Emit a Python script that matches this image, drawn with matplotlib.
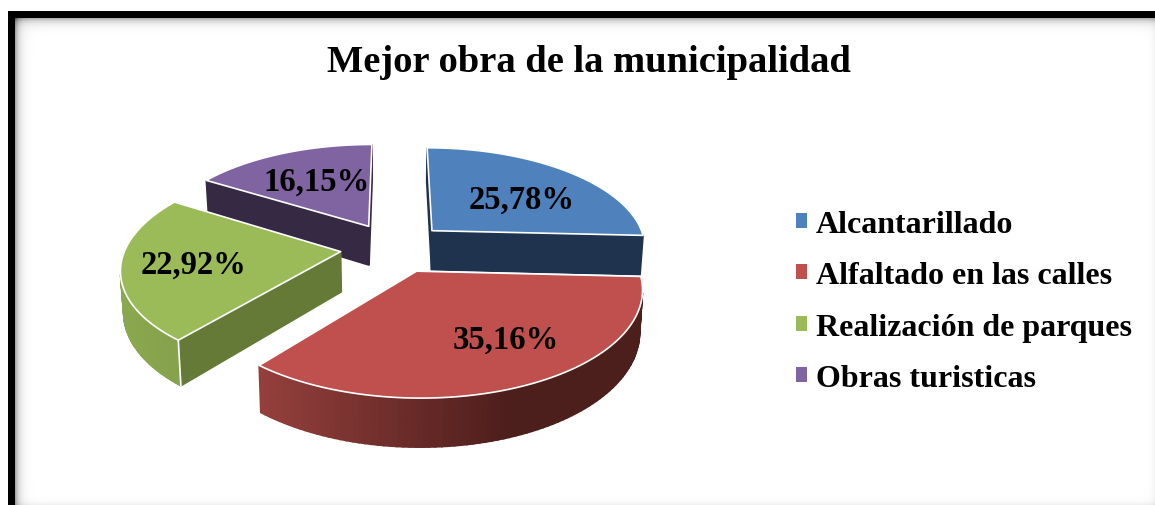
import numpy as np
import matplotlib
matplotlib.use('Agg')
import matplotlib.pyplot as plt
from matplotlib.colors import to_rgb
from matplotlib.patches import Patch

# values of the chart
categorias = ['Alcantarillado', 'Alfaltado en las calles', 'Realización de parques', 'Obras turisticas']
valores = [25.78, 35.16, 22.92, 16.15]
etiquetas = ['25,78%', '35,16%', '22,92%', '16,15%']
titulo = 'Mejor obra de la municipalidad'

colores = ['#4f81bd', '#c0504d', '#9bbb59', '#8064a2']
# cut wall colour, and arc wall colours at left / right of the wedge
pared_corte = ['#1f334e', '#4c1e1c', '#667a38', '#352944']
pared_arco = [('#1f334e', '#1f334e'), ('#95403c', '#4c1e1c'), ('#8aa84f', '#7d9847'), ('#352944', '#352944')]
label_pos = [(522, 200), (506, 340), (194, 265), (317, 182)]

plt.rcParams['font.family'] = ['Liberation Serif', 'DejaVu Serif']

# perspective of the pie plane
CX, CY = 394, 248.5
A, B, K = 215, 100, 0.15
EXPL = 0.25
PROF = 40


def proyecta(u, v, z=0.0):
    s = 1 / (1 + K * v)
    esc = 1 - 0.012 * z
    x = CX + A * u * s * esc
    y = CY - B * v * s + PROF * s * z
    return x, y


def area(xs, ys):
    xs, ys = np.asarray(xs), np.asarray(ys)
    return 0.5 * np.sum(xs * np.roll(ys, -1) - np.roll(xs, -1) * ys)


fig = plt.figure(figsize=(11.55, 5.06), dpi=100)
ax = fig.add_axes([0, 0, 1, 1])
ax.set_xlim(0, 1155)
ax.set_ylim(506, 0)
ax.axis('off')

# background: black frame with soft inner shadow
yy, xx = np.mgrid[0:506, 0:1155]
fondo = np.ones((506, 1155))
fondo -= 0.45 * np.exp(-np.clip(xx - 14, 0, None) / 4.0) * (yy >= 12)
fondo -= 0.40 * np.exp(-np.clip(yy - 18, 0, None) / 4.0) * (xx >= 8)
fondo -= 0.06 * np.exp(-np.clip(1155 - xx, 0, None) / 3.0) * (yy >= 18)
fondo -= 0.08 * np.exp(-np.clip(506 - yy, 0, None) / 3.0) * (xx >= 14)
fondo = np.clip(fondo, 0, 1)
fondo[12:, 8:15] = 0
fondo[12:19, 8:] = 0
fondo[:12, :] = 1
fondo[:, :8] = 1
ax.imshow(fondo, cmap='gray', vmin=0, vmax=1, extent=(0, 1155, 506, 0), aspect='auto',
          interpolation='bilinear', zorder=0)

fracs = np.array(valores) / np.sum(valores)
limites = 90 - 360 * np.concatenate([[0], np.cumsum(fracs)])

# back wedges first so the front ones cover them
orden = [3, 0, 2, 1]
for i in orden:
    a1, a2 = limites[i], limites[i + 1]
    medio = np.radians((a1 + a2) / 2)
    u0, v0 = EXPL * np.cos(medio), EXPL * np.sin(medio)
    th = np.radians(np.linspace(a1, a2, 90))
    us = np.concatenate([[u0], u0 + np.cos(th)])
    vs = np.concatenate([[v0], v0 + np.sin(th)])
    xt, yt = proyecta(us, vs)
    xb, yb = proyecta(us, vs, 1.0)
    signo = np.sign(area(xt, yt))

    x_min, x_max = xt.min(), xt.max()
    c_izq = np.array(to_rgb(pared_arco[i][0]))
    c_der = np.array(to_rgb(pared_arco[i][1]))
    n = len(xt)
    for j in range(n):
        k = (j + 1) % n
        qx = [xt[j], xt[k], xb[k], xb[j]]
        qy = [yt[j], yt[k], yb[k], yb[j]]
        if np.sign(area(qx, qy)) == signo:
            continue
        if j == 0 or j == n - 1:
            col = pared_corte[i]
        else:
            t = min(1, ((xt[j] - x_min) / max(x_max - x_min, 1)) * 1.5)
            col = tuple(c_izq + (c_der - c_izq) * t)
        ax.fill(qx, qy, color=col, lw=1.2, zorder=2)
    ax.fill(xt, yt, facecolor=colores[i], edgecolor='white', lw=1.2, zorder=2, joinstyle='round')
    # white line on the green corner between arc and cut wall
    if i == 2:
        xe, ye = proyecta(us[1], vs[1])
        xf, yf = proyecta(us[1], vs[1], 1.0)
        ax.plot([xe, xf], [ye, yf], color='white', lw=1.2, zorder=2)

for et, (px, py) in zip(etiquetas, label_pos):
    ax.text(px, py, et, fontsize=23.5, fontweight='bold', ha='center', va='center', color='black', zorder=3)

ax.text(589, 62, titulo, fontsize=27.7, fontweight='bold', ha='center', va='center', color='black', zorder=3)

handles = [Patch(facecolor=c, edgecolor='none') for c in colores]
ax.legend(handles, categorias, loc='upper left', bbox_to_anchor=(796 / 1155, 1 - 211 / 506),
          frameon=False, prop={'size': 23, 'weight': 'bold'}, handlelength=0.34, handleheight=0.34,
          handletextpad=0.28, labelspacing=0.70, borderpad=0, borderaxespad=0)

fig.savefig('out.png', dpi=100)
